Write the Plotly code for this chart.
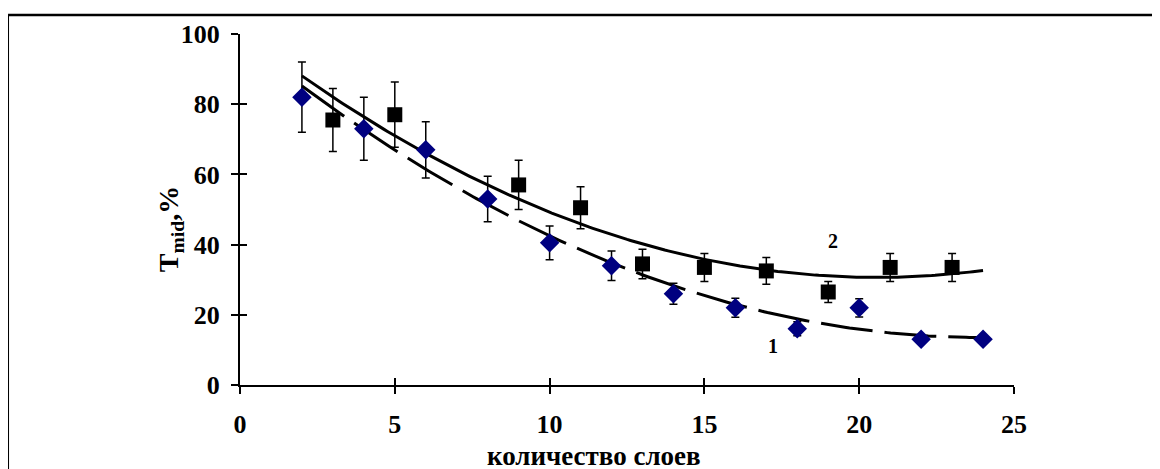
import numpy as np
import plotly.graph_objects as go

# ---- data ----
layers_1 = [2, 4, 6, 8, 10, 12, 14, 16, 18, 20, 22, 24]
tmid_1 = [82, 73, 67, 53, 40.5, 34, 26, 22, 16, 22, 13, 13]
err_1 = [10, 9, 8, 6.5, 4.8, 4.2, 3, 2.7, 2, 2.6, 1, 1]

layers_2 = [3, 5, 9, 11, 13, 15, 17, 19, 21, 23]
tmid_2 = [75.5, 77, 57, 50.5, 34.5, 33.5, 32.5, 26.5, 33.5, 33.5]
err_2 = [9, 9.3, 7, 6, 4.2, 4, 3.8, 3, 4, 4]

x_ticks = [0, 5, 10, 15, 20, 25]
y_ticks = [0, 20, 40, 60, 80, 100]

FONT = "Liberation Serif"

# polynomial (2nd order) trendlines, as in the original spreadsheet chart
c1 = np.polyfit(layers_1, tmid_1, 2)
c2 = np.polyfit(layers_2, tmid_2, 2)
xf = np.linspace(2, 24, 200)
yf1 = np.polyval(c1, xf)
yf2 = np.polyval(c2, xf)

fig = go.Figure()
fig.add_trace(go.Scatter(x=xf, y=yf1, mode="lines",
                         line=dict(color="black", width=3, dash="52px,12px"),
                         hoverinfo="skip", showlegend=False))
fig.add_trace(go.Scatter(x=xf, y=yf2, mode="lines",
                         line=dict(color="black", width=3),
                         hoverinfo="skip", showlegend=False))
fig.add_trace(go.Scatter(x=layers_1, y=tmid_1, mode="markers",
                         marker=dict(symbol="diamond", size=15, color="#000080"),
                         error_y=dict(type="data", array=err_1, color="black",
                                      thickness=1.5, width=4),
                         showlegend=False))
fig.add_trace(go.Scatter(x=layers_2, y=tmid_2, mode="markers",
                         marker=dict(symbol="square", size=15, color="black"),
                         error_y=dict(type="data", array=err_2, color="black",
                                      thickness=1.5, width=4),
                         showlegend=False))
# invisible trace to host the inside-tick overlay axes
fig.add_trace(go.Scatter(x=[None], y=[None], xaxis="x2", yaxis="y2",
                         showlegend=False, hoverinfo="skip"))

tickfont = dict(family=FONT, size=26, color="black", weight="bold")

fig.update_layout(
    width=1160, height=469,
    margin=dict(l=232, r=154, t=24, b=92),
    paper_bgcolor="white", plot_bgcolor="white",
    xaxis=dict(range=[0, 25], tickvals=x_ticks, showgrid=False, zeroline=False,
               showline=True, linecolor="black", linewidth=2,
               ticks="outside", ticklen=7, tickwidth=2, tickcolor="black",
               tickfont=tickfont, ticklabelstandoff=8),
    yaxis=dict(range=[0, 100], tickvals=y_ticks, showgrid=False, zeroline=False,
               showline=True, linecolor="black", linewidth=2,
               ticks="outside", ticklen=7, tickwidth=2, tickcolor="black",
               tickfont=tickfont, ticklabelstandoff=6),
    xaxis2=dict(range=[0, 25], tickvals=x_ticks, overlaying="x", anchor="y",
                showgrid=False, zeroline=False, showline=False,
                ticks="inside", ticklen=7, tickwidth=2, tickcolor="black",
                showticklabels=False),
    yaxis2=dict(range=[0, 100], tickvals=y_ticks, overlaying="y", anchor="x",
                showgrid=False, zeroline=False, showline=False,
                ticks="inside", ticklen=7, tickwidth=2, tickcolor="black",
                showticklabels=False),
    annotations=[
        dict(text="T<sub>mid</sub>,%", xref="paper", yref="paper",
             x=-0.114, y=0.4448, xanchor="left", yanchor="middle",
             textangle=-90, showarrow=False,
             font=dict(family=FONT, size=28, color="black", weight="bold")),
        dict(text="количество слоев", xref="paper", yref="paper",
             x=0.457, y=-0.203, xanchor="center", yanchor="middle",
             showarrow=False,
             font=dict(family=FONT, size=27, color="black", weight="bold")),
        dict(text="1", x=17.2, y=11, xanchor="center", yanchor="middle",
             showarrow=False,
             font=dict(family=FONT, size=20, color="black", weight="bold")),
        dict(text="2", x=19.15, y=41, xanchor="center", yanchor="middle",
             showarrow=False,
             font=dict(family=FONT, size=20, color="black", weight="bold")),
    ],
    shapes=[
        dict(type="line", xref="paper", yref="paper",
             x0=-0.2997, x1=-0.2997, y0=-0.4, y1=1.0538,
             line=dict(color="black", width=2)),
        dict(type="line", xref="paper", yref="paper",
             x0=-0.2997, x1=1.25, y0=1.0538, y1=1.0538,
             line=dict(color="black", width=2.5)),
    ],
)

fig.write_html("out.html")
